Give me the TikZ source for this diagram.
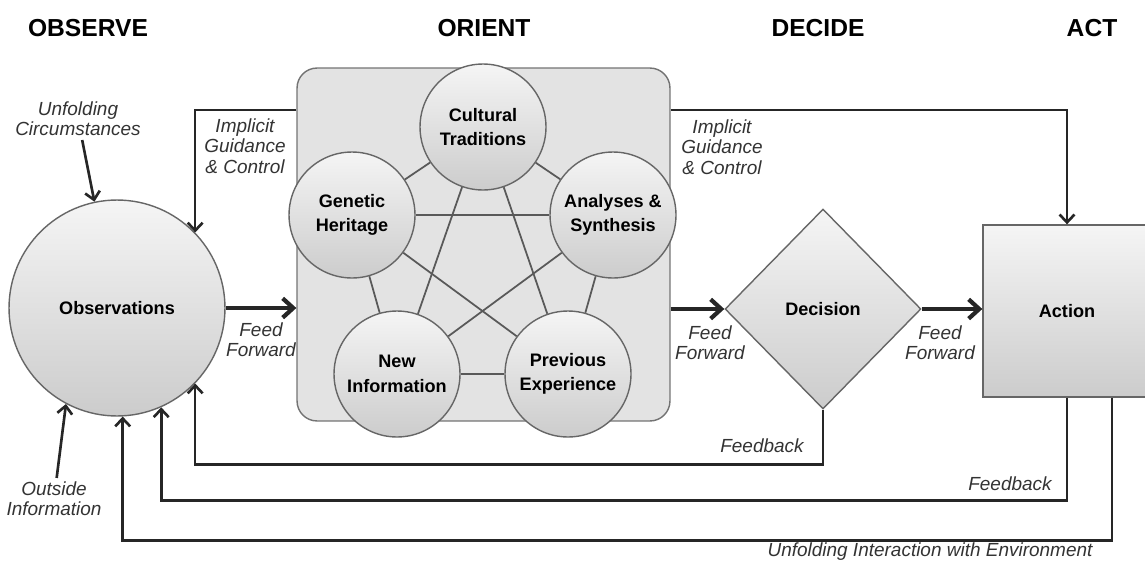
\documentclass[tikz,border=0pt]{standalone}
\usepackage{fontspec}
\setmainfont{Liberation Sans}
\usepackage{tikz}
\usetikzlibrary{arrows,arrows.meta,shapes,positioning}
\tikzset{OODA style/.style={x=0.02cm,y=-0.02cm},
	phasetitle/.style={font=\fontsize{14}{16}\selectfont\bfseries},
	ball/.style={circle,draw=black!60,line width=0.8pt,top color=gray!8,bottom color=gray!40,minimum size=2.52cm,inner sep=0pt,align=center,font=\fontsize{10.3}{14}\selectfont\bfseries},
	orientbox/.style={draw=black!55,fill=gray!22,line width=0.8pt,rounded corners=0.4cm,minimum width=7.46cm,minimum height=7.06cm},
	decbox/.style={diamond,draw=black!60,line width=0.8pt,top color=gray!8,bottom color=gray!40,minimum width=3.92cm,minimum height=4cm,inner sep=0pt,font=\fontsize{10.3}{14}\selectfont\bfseries},
	actbox/.style={rectangle,draw=black!60,line width=0.8pt,top color=gray!8,bottom color=gray!40,minimum width=3.36cm,minimum height=3.44cm,font=\fontsize{10.3}{14}\selectfont\bfseries},
	labeltext/.style={font=\fontsize{10.8}{11.6}\selectfont\itshape,text=black!80,align=center,inner sep=2pt},
	ffarrow/.style={-{Straight Barb[length=6pt,width=11pt]},line width=2.4pt,black!85},
	backarrow/.style={-{Straight Barb[length=4.5pt,width=8.5pt]},line width=1.5pt,black!85},
	pentaline/.style={line width=1pt,black!65}}

\begin{document}
\begin{tikzpicture}[OODA style]
		\useasboundingbox (0,0) rectangle (1145,565);
		
		\node[phasetitle] (observe) at (88,28) {OBSERVE};
		\node[phasetitle] (orienthead) at (484,28) {ORIENT};
		\node[phasetitle] (decide) at (818,28) {DECIDE};
		\node[phasetitle] (acthead) at (1092,28) {ACT};
		
		\node[ball,minimum size=4.32cm] (obs) at (117,308) {Observations};
		
		\node[orientbox] (orient) at (483.5,244.5) {};
		\node[ball] (ct) at (483,127) {Cultural\\Traditions};
		\node[ball] (gh) at (352,215) {Genetic\\Heritage};
		\node[ball] (as) at (613,215) {Analyses \&\\Synthesis};
		\node[ball] (ni) at (397,374) {New\\Information};
		\node[ball] (pe) at (568,374) {Previous\\Experience};
		\foreach \a/\b in {ct/gh,ct/as,ct/ni,ct/pe,gh/as,gh/ni,gh/pe,as/ni,as/pe,ni/pe}
			\draw[pentaline] (\a) -- (\b);
		
		\node[decbox] (dec) at (823,309) {Decision};
		\node[actbox] (actn) at (1067,311) {Action};
		
		\draw[ffarrow] (obs.east) -- (obs.east -| orient.west);
		\draw[ffarrow] (orient.east |- dec.west) -- (dec.west);
		\draw[ffarrow] (dec.east) -- (dec.east -| actn.west);
		\node[labeltext] (ff1) at (261,340) {Feed\\Forward};
		\node[labeltext] (ff2) at (710,343) {Feed\\Forward};
		\node[labeltext] (ff3) at (940,343) {Feed\\Forward};
		
		\coordinate (igl) at ([yshift=2.69cm]orient.west);
		\coordinate (igr) at ([yshift=2.69cm]orient.east);
		\draw[backarrow] (igl) -| (obs.44);
		\draw[backarrow] (igr) -| (actn.north);
		\node[labeltext] (ig1) at (245,146) {Implicit\\Guidance\\\& Control};
		\node[labeltext] (ig2) at (722,147) {Implicit\\Guidance\\\& Control};
		
		\node[labeltext] (uc) at (78,119) {Unfolding\\Circumstances};
		\draw[backarrow] (uc) -- (obs.102);
		\node[labeltext] (oi) at (54,499) {Outside\\Information};
		\draw[backarrow] (oi) -- (obs.-118);
		
		\draw[backarrow] (dec.south) -- ++(0,55) -| (obs.-44);
		\draw[backarrow] (actn.south) -- ++(0,103) -| (obs.-66);
		\draw[backarrow] ([xshift=0.9cm]actn.south) -- ++(0,143) -| (obs.-87);
		\node[labeltext] (fb1) at (762,446) {Feedback};
		\node[labeltext] (fb2) at (1010,484) {Feedback};
		\node[labeltext] (uie) at (930,552) {Unfolding Interaction with Environment};
		
	\end{tikzpicture}
\end{document}
